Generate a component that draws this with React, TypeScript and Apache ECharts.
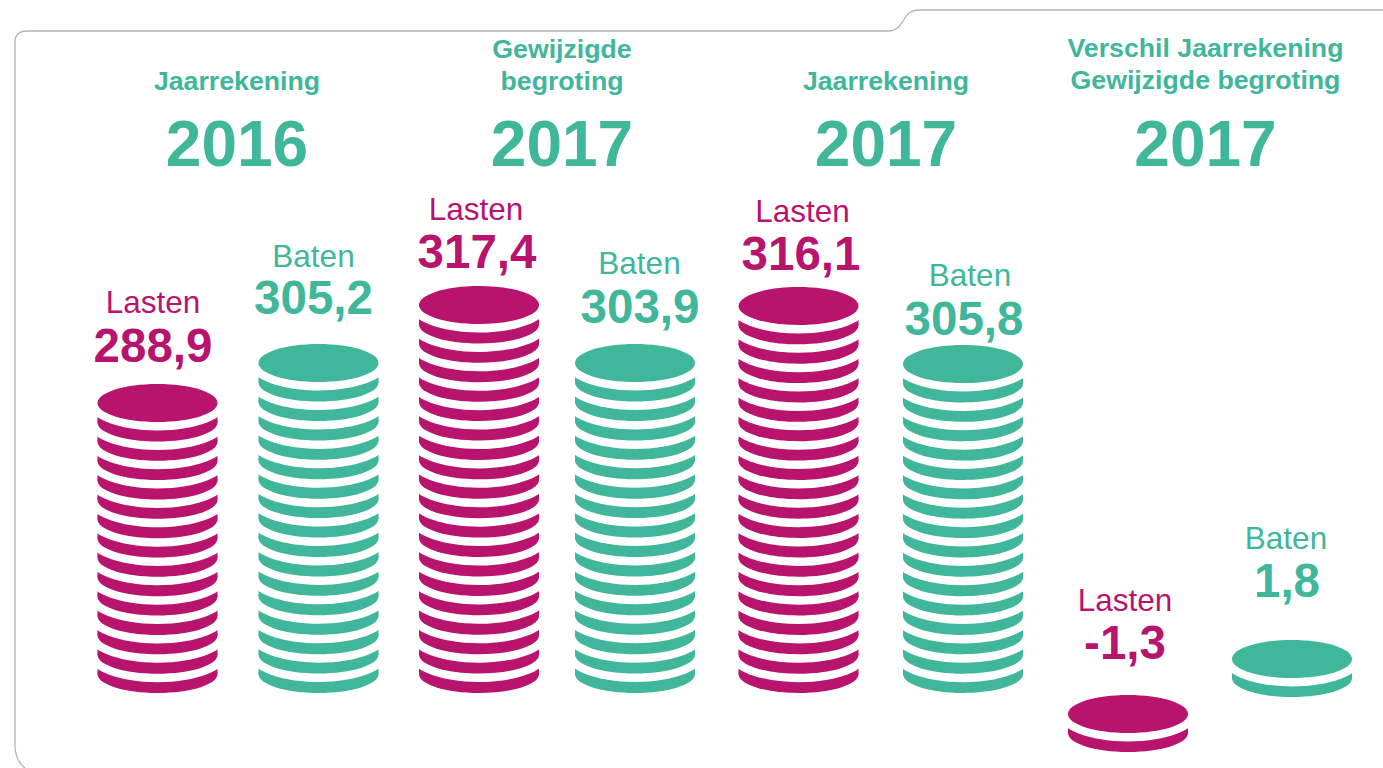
import React, { useEffect, useRef } from "react";
import * as echarts from "echarts";

// ---- data ----
const groupHeadings = [["Jaarrekening"], ["Gewijzigde", "begroting"], ["Jaarrekening"], ["Verschil Jaarrekening", "Gewijzigde begroting"]];
const groupYears = ["2016", "2017", "2017", "2017"];
const stackIds = ["a", "b", "c", "d", "e", "f", "g", "h"];
const stackNames = ["Lasten", "Baten", "Lasten", "Baten", "Lasten", "Baten", "Lasten", "Baten"];
const stackValues = [288.9, 305.2, 317.4, 303.9, 316.1, 305.8, -1.3, 1.8];
const coinCounts = [15, 17, 20, 17, 20, 17, 2, 2];
const coinBaseLevels = [0, 0, 0, 0, 0, 0, -3.06, -0.21];
const coinTopLevels = [14.04, 16.11, 19.12, 16.11, 19.07, 16.06, -2.07, 0.78];

// ---- layout and style ----
const MAGENTA = "#B8146E";
const GREEN = "#40B69A";
const FONT = '"Liberation Sans", Arial, sans-serif';
const COIN_RX = 60;
const COIN_RY = 19;
const GAP_RX = 70;
const GAP_RY = 27.5;
const stackNudge = [0, -0.5, -1.5, -7, -5, -2, 1.5, 4];
const valueDx = [-4.5, -5, -2, 5, 2.5, 1, -3, -5];
const nameDx = [-4.5, -5, -3, 4.5, 4, 7, -3, -6];
const valueLift = [58, 66, 53, 57, 52, 46, 71, 78];
const nameLift = [101, 107, 96, 100, 95, 89, 114, 121];
const headingX = [237, 562, 886, 1205.5];
const headingY = [[81], [49, 81], [81], [48, 80]];
const OUTLINE =
  "M25,768 Q15,760 15,745 L15,42 Q15,31 27,31 L888,31 C897,31 899,27 903,21 C908,13 911,10 919,10 L1383,10";

const colorOf = (i: number) => (stackNames[i] === "Lasten" ? MAGENTA : GREEN);

function renderCoins(params: any, api: any) {
  const i = api.value(0);
  const base = api.value(1);
  const top = api.value(2);
  const n = api.value(3);
  const x = api.coord([stackIds[i], base])[0] + stackNudge[i];
  const yBase = api.coord([stackIds[i], base])[1];
  const yTop = api.coord([stackIds[i], top])[1];
  const pitch = n > 1 ? (yBase - yTop) / (n - 1) : 0;
  const fill = colorOf(i);
  const children: any[] = [];
  for (let k = 0; k < n; k++) {
    const cy = yBase - k * pitch;
    if (k > 0) {
      children.push({
        type: "ellipse",
        shape: { cx: x, cy, rx: GAP_RX, ry: GAP_RY },
        style: { fill: "#ffffff" },
      });
    }
    if (k < n - 1) {
      children.push({
        type: "rect",
        shape: { x: x - COIN_RX, y: cy - pitch, width: COIN_RX * 2, height: pitch },
        style: { fill },
      });
    }
    children.push({
      type: "ellipse",
      shape: { cx: x, cy, rx: COIN_RX, ry: COIN_RY },
      style: { fill },
    });
  }
  return { type: "group", children };
}

function renderLabels(params: any, api: any) {
  const i = api.value(0);
  const pt = api.coord([stackIds[i], api.value(1)]);
  const x = pt[0] + stackNudge[i];
  const y = pt[1];
  const fill = colorOf(i);
  return {
    type: "group",
    children: [
      {
        type: "text",
        style: {
          text: stackNames[i],
          x: x + nameDx[i],
          y: y - nameLift[i],
          fill,
          font: `400 31.5px ${FONT}`,
          textAlign: "center",
          textVerticalAlign: "middle",
        },
      },
      {
        type: "text",
        style: {
          text: stackValues[i].toFixed(1).replace(".", ","),
          x: x + valueDx[i],
          y: y - valueLift[i],
          fill,
          font: `700 47.5px ${FONT}`,
          textAlign: "center",
          textVerticalAlign: "middle",
        },
      },
    ],
  };
}

echarts.graphic.registerShape("outline", echarts.graphic.extendPath(OUTLINE, {}));

export default function App() {
  const ref = useRef<HTMLDivElement>(null);
  useEffect(() => {
    const chart = echarts.init(ref.current!, undefined, { renderer: "svg" });
    const headingElements: any[] = [];
    groupHeadings.forEach((lines, g) => {
      lines.forEach((line, l) => {
        headingElements.push({
          type: "text",
          x: headingX[g],
          y: headingY[g][l],
          style: {
            text: line,
            fill: GREEN,
            font: `700 26.7px ${FONT}`,
            textAlign: "center",
            textVerticalAlign: "middle",
          },
        });
      });
      headingElements.push({
        type: "text",
        x: headingX[g],
        y: 144,
        style: {
          text: groupYears[g],
          fill: GREEN,
          font: `700 64px ${FONT}`,
          textAlign: "center",
          textVerticalAlign: "middle",
        },
      });
    });
    chart.setOption({
      animation: false,
      backgroundColor: "#ffffff",
      grid: { left: 76.75, width: 1292, top: 17.8, height: 733.4 },
      xAxis: { type: "category", data: stackIds, show: false },
      yAxis: { type: "value", min: -4, max: 34, show: false },
      graphic: [
        {
          type: "outline",
          x: 0,
          y: 0,
          silent: true,
          style: { fill: "none", stroke: "#b4b4b4", lineWidth: 1.3 },
        },
        ...headingElements,
      ],
      series: [
        {
          type: "custom",
          clip: false,
          silent: true,
          renderItem: renderCoins,
          encode: { x: 0, y: 2 },
          data: stackIds.map((_, i) => [i, coinBaseLevels[i], coinTopLevels[i], coinCounts[i]]),
        },
        {
          type: "custom",
          clip: false,
          silent: true,
          renderItem: renderLabels,
          encode: { x: 0, y: 1 },
          data: stackIds.map((_, i) => [i, coinTopLevels[i]]),
        },
      ],
    });
    return () => chart.dispose();
  }, []);
  return <div ref={ref} style={{ position: "absolute", left: 0, top: 0, width: 1383, height: 768 }} />;
}
